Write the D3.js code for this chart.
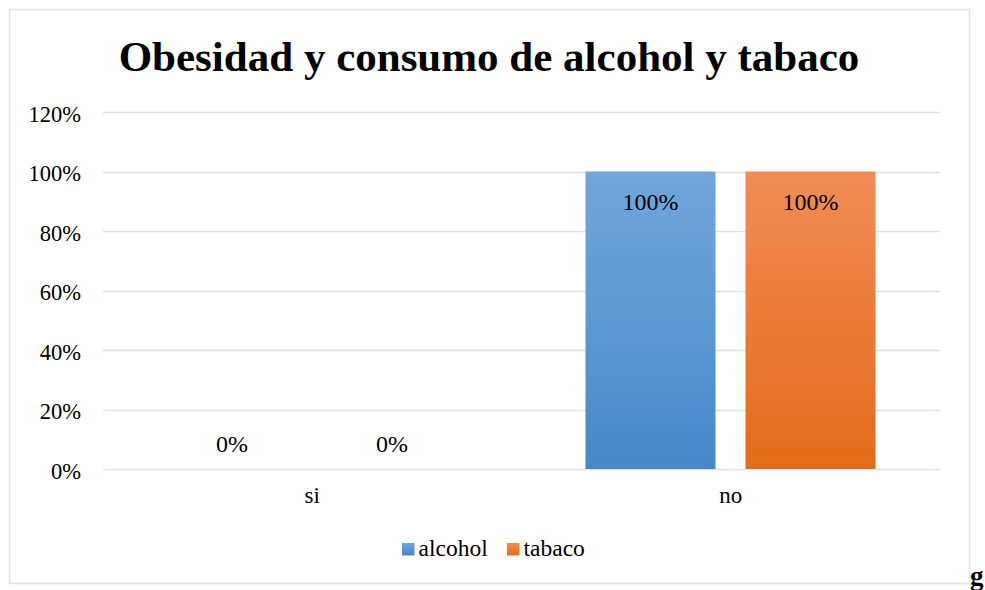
<!DOCTYPE html>
<html>
<head>
<meta charset="utf-8">
<script src="https://cdn.jsdelivr.net/npm/d3@7"></script>
<style>
  body { margin: 0; background: #fff; }
</style>
</head>
<body>
<div id="chart"></div>
<script>
const categories = ["si", "no"];
const series = ["alcohol", "tabaco"];
const alcohol = [0, 1];
const tabaco = [0, 1];
const yTicks = [0, 0.2, 0.4, 0.6, 0.8, 1.0, 1.2];
const title = "Obesidad y consumo de alcohol y tabaco";

const width = 985, height = 590;
const plot = {left: 103, right: 940, top: 112, bottom: 469};
const serif = "Liberation Serif";

const colors = {
    alcohol: ["#72a6dc", "#4589c9"],
    tabaco: ["#f28c56", "#e36b18"]
};

const svg = d3.select("#chart").append("svg")
    .attr("width", width)
    .attr("height", height)
    .attr("font-family", serif);

// gradients for bars
const defs = svg.append("defs");
series.forEach(function(s) {
    const g = defs.append("linearGradient")
        .attr("id", `grad-${s}`)
        .attr("x1", 0).attr("y1", 0).attr("x2", 0).attr("y2", 1);
    g.append("stop").attr("offset", "0%").attr("stop-color", colors[s][0]);
    g.append("stop").attr("offset", "100%").attr("stop-color", colors[s][1]);
});

// frame
svg.append("rect")
    .attr("x", 9.5).attr("y", 9.5)
    .attr("width", 960).attr("height", 574)
    .attr("fill", "none")
    .attr("stroke", "#dfe3ea")
    .attr("stroke-width", 1.5);

svg.append("text")
    .attr("x", 489).attr("y", 71)
    .attr("text-anchor", "middle")
    .attr("font-family", serif)
    .attr("font-size", 43)
    .attr("font-weight", "bold")
    .text(title);

const y = d3.scaleLinear().domain([0, 1.2]).range([plot.bottom, plot.top]);
const x0 = d3.scaleBand().domain(categories).range([plot.left, plot.right]);
const x1 = d3.scaleBand().domain(series).range([64, 354]).paddingInner(30 / 160);

// gridlines
svg.append("g")
    .selectAll("line")
    .data(yTicks)
    .join("line")
    .attr("x1", plot.left).attr("x2", plot.right)
    .attr("y1", d => Math.round(y(d)) + 0.5)
    .attr("y2", d => Math.round(y(d)) + 0.5)
    .attr("stroke", "#dde1e8")
    .attr("stroke-width", 1.5);

// y axis labels
const yAxis = d3.axisLeft(y).tickValues(yTicks).tickFormat(d3.format(".0%")).tickSize(0).tickPadding(22);
svg.append("g")
    .attr("transform", `translate(${plot.left},0)`)
    .call(yAxis)
    .attr("font-family", serif)
    .attr("font-size", 22.5)
    .call(g => g.select(".domain").remove())
    .call(g => g.selectAll("text").attr("fill", "#000").attr("dy", "0.4em"));

// x axis labels
const xAxis = d3.axisBottom(x0).tickSize(0).tickPadding(18);
svg.append("g")
    .attr("transform", `translate(0,${plot.bottom})`)
    .call(xAxis)
    .attr("font-family", serif)
    .attr("font-size", 23)
    .call(g => g.select(".domain").remove())
    .call(g => g.selectAll("text").attr("fill", "#000"));

const data = categories.map((c, i) => ({
    cat: c,
    values: [{key: "alcohol", value: alcohol[i]}, {key: "tabaco", value: tabaco[i]}]
}));

const groups = svg.append("g")
    .selectAll("g")
    .data(data)
    .join("g")
    .attr("transform", d => `translate(${x0(d.cat)},0)`);

groups.selectAll("rect")
    .data(d => d.values)
    .join("rect")
    .attr("x", d => x1(d.key))
    .attr("width", x1.bandwidth())
    .attr("y", d => y(d.value))
    .attr("height", d => y(0) - y(d.value))
    .attr("fill", d => `url(#grad-${d.key})`);

groups.selectAll("text")
    .data(d => d.values)
    .join("text")
    .attr("x", d => x1(d.key) + x1.bandwidth() / 2)
    .attr("y", d => d.value > 0 ? y(d.value) + 38 : y(0) - 17)
    .attr("text-anchor", "middle")
    .attr("font-family", serif)
    .attr("font-size", 24)
    .text(d => d3.format(".0%")(d.value));

// legend
const legend = svg.append("g").attr("transform", "translate(402,556)");
const legendX = [0, 105];
series.forEach(function(s, i) {
    const g = legend.append("g").attr("transform", `translate(${legendX[i]},0)`);
    g.append("rect")
        .attr("x", 0).attr("y", -13)
        .attr("width", 12.5).attr("height", 12.5)
        .attr("fill", `url(#grad-${s})`);
    g.append("text")
        .attr("x", 16.5).attr("y", 0)
        .attr("font-family", serif)
        .attr("font-size", 23.5)
        .text(s);
});

svg.append("text")
    .attr("x", 970).attr("y", 585)
    .attr("font-family", serif)
    .attr("font-size", 27)
    .attr("font-weight", "bold")
    .text("g");
</script>
</body>
</html>
